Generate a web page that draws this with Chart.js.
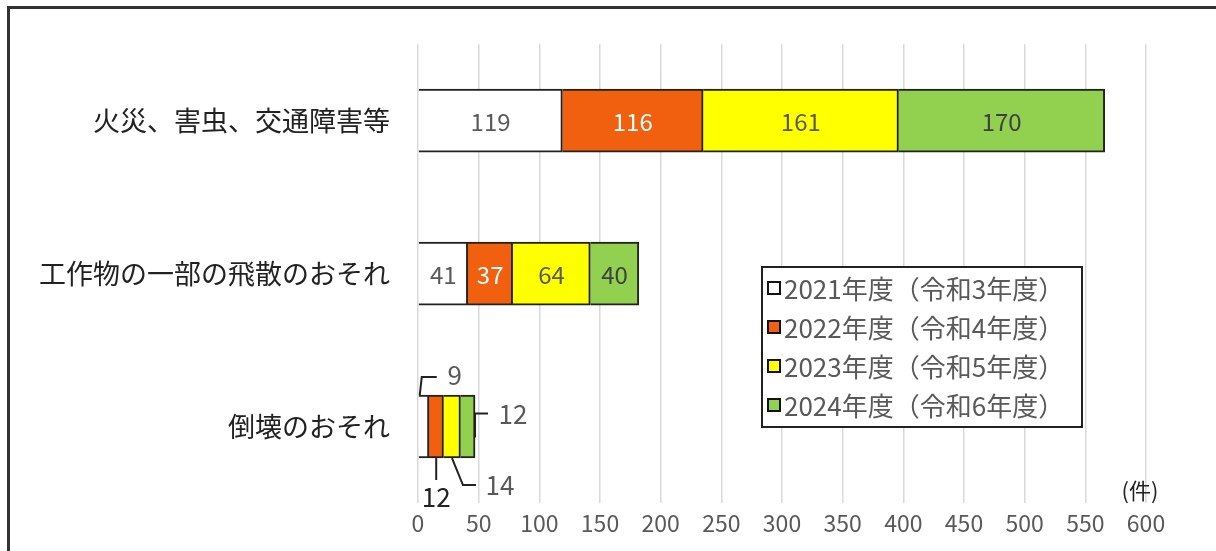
<!DOCTYPE html>
<html>
<head>
<meta charset="utf-8">
<script src="https://cdn.jsdelivr.net/npm/chart.js@4/dist/chart.umd.min.js"></script>
<style>
  html, body { margin: 0; padding: 0; background: #fff; overflow: hidden; }
  #wrap { position: relative; width: 1216px; height: 551px; }
  #frame { position: absolute; left: 7px; top: 6px; width: 1230px; height: 570px;
           border: 3px solid #333; box-sizing: border-box; pointer-events: none; }
</style>
</head>
<body>
<div id="wrap">
  <canvas id="chart" width="1216" height="551"></canvas>
  <div id="frame"></div>
</div>
<script>
const categories = ['火災、害虫、交通障害等', '工作物の一部の飛散のおそれ', '倒壊のおそれ'];
const seriesLabels = ['2021年度（令和3年度）', '2022年度（令和4年度）', '2023年度（令和5年度）', '2024年度（令和6年度）'];
const fy2021 = [119, 41, 9];
const fy2022 = [116, 37, 12];
const fy2023 = [161, 64, 14];
const fy2024 = [170, 40, 12];
const xTicks = [0, 50, 100, 150, 200, 250, 300, 350, 400, 450, 500, 550, 600];

const FONT = '"Noto Sans CJK JP", "Noto Sans", sans-serif';
const fills = ['#ffffff', '#f0600f', '#ffff00', '#92d050'];
const labelColors = ['#595959', '#ffffff', '#595959', '#404040'];

// small bar: labels drawn outside with leader lines
const callouts = [
  { from: 'topLeft',  path: [[1, 0], [3, -18], [18, -18]], text: [36, -20], color: '#595959' },
  { from: 'bottomMid', path: [[0, 0], [0, 22]], text: [0, 39], color: '#222' },
  { from: 'bottomMid', path: [[0, 0], [11, 27], [24, 27]], text: [48, 27], color: '#595959' },
  { from: 'rightMid', path: [[0, 11], [0, -13], [13, -13]], text: [38, -12], color: '#595959' }
];

const labelPlugin = {
  id: 'valueLabels',
  afterDatasetsDraw(chart) {
    const ctx = chart.ctx;
    ctx.save();
    ctx.textAlign = 'center';
    ctx.textBaseline = 'middle';
    chart.data.datasets.forEach((ds, di) => {
      const meta = chart.getDatasetMeta(di);
      meta.data.forEach((bar, i) => {
        const v = ds.data[i];
        const left = bar.base, right = bar.x;
        const top = bar.y - bar.height / 2, bottom = bar.y + bar.height / 2;
        if (i < 2) {
          ctx.font = '24px ' + FONT;
          ctx.fillStyle = labelColors[di];
          ctx.fillText(String(v), (left + right) / 2, bar.y + 1);
        } else {
          const c = callouts[di];
          let ox, oy;
          if (c.from === 'topLeft') { ox = left; oy = top; }
          else if (c.from === 'bottomMid') { ox = (left + right) / 2; oy = bottom; }
          else { ox = right; oy = bar.y; }
          ctx.strokeStyle = '#222';
          ctx.lineWidth = 2;
          ctx.beginPath();
          c.path.forEach((p, k) => {
            if (k === 0) ctx.moveTo(ox + p[0], oy + p[1]);
            else ctx.lineTo(ox + p[0], oy + p[1]);
          });
          ctx.stroke();
          ctx.font = '26px ' + FONT;
          ctx.fillStyle = c.color;
          ctx.fillText(String(v), ox + c.text[0], oy + c.text[1]);
        }
      });
    });
    ctx.restore();
  }
};

const extrasPlugin = {
  id: 'extras',
  afterDraw(chart) {
    const ctx = chart.ctx;
    const area = chart.chartArea;
    ctx.save();
    // unit
    ctx.font = '22px ' + FONT;
    ctx.fillStyle = '#222';
    ctx.textAlign = 'center';
    ctx.textBaseline = 'middle';
    ctx.fillText('(件)', area.right - 6, area.bottom - 12);

    // legend box inside the plot
    const bx = 762, by = 267, bw = 320, bh = 160;
    ctx.fillStyle = '#fff';
    ctx.fillRect(bx, by, bw, bh);
    ctx.strokeStyle = '#222';
    ctx.lineWidth = 2;
    ctx.strokeRect(bx, by, bw, bh);
    ctx.font = '26px ' + FONT;
    ctx.textAlign = 'left';
    chart.data.datasets.forEach((ds, di) => {
      const cy = by + 21 + di * 39;
      ctx.fillStyle = ds.backgroundColor;
      ctx.fillRect(bx + 6, cy - 6, 12, 12);
      ctx.strokeStyle = '#111';
      ctx.lineWidth = 2;
      ctx.strokeRect(bx + 6, cy - 6, 12, 12);
      ctx.fillStyle = '#595959';
      ctx.fillText(ds.label, bx + 22, cy + 1);
    });
    ctx.restore();
  }
};

const seriesValues = [fy2021, fy2022, fy2023, fy2024];

new Chart(document.getElementById('chart').getContext('2d'), {
  type: 'bar',
  data: {
    labels: categories,
    datasets: seriesValues.map((vals, di) => ({
      label: seriesLabels[di],
      data: vals,
      backgroundColor: fills[di],
      borderColor: '#222',
      borderWidth: 2,
      borderSkipped: 'start',
      barThickness: 63
    }))
  },
  options: {
    indexAxis: 'y',
    responsive: false,
    animation: false,
    layout: { padding: { top: 37, right: 70, left: 0, bottom: 0 } },
    plugins: {
      legend: { display: false },
      tooltip: { enabled: false }
    },
    scales: {
      x: {
        stacked: true,
        min: 0,
        max: 600,
        afterBuildTicks(scale) { scale.ticks = xTicks.map(v => ({ value: v })); },
        afterFit(scale) { scale.height = 48; },
        border: { display: false },
        grid: { color: '#d9d9d9', lineWidth: 1.5, drawTicks: false },
        ticks: { color: '#595959', font: { family: FONT, size: 23 }, padding: 6 }
      },
      y: {
        stacked: true,
        afterFit(scale) { scale.width = 418; },
        border: { display: false },
        grid: { display: false, drawTicks: false },
        ticks: { color: '#222', font: { family: FONT, size: 27 }, padding: 28 }
      }
    }
  },
  plugins: [labelPlugin, extrasPlugin]
});
</script>
</body>
</html>
